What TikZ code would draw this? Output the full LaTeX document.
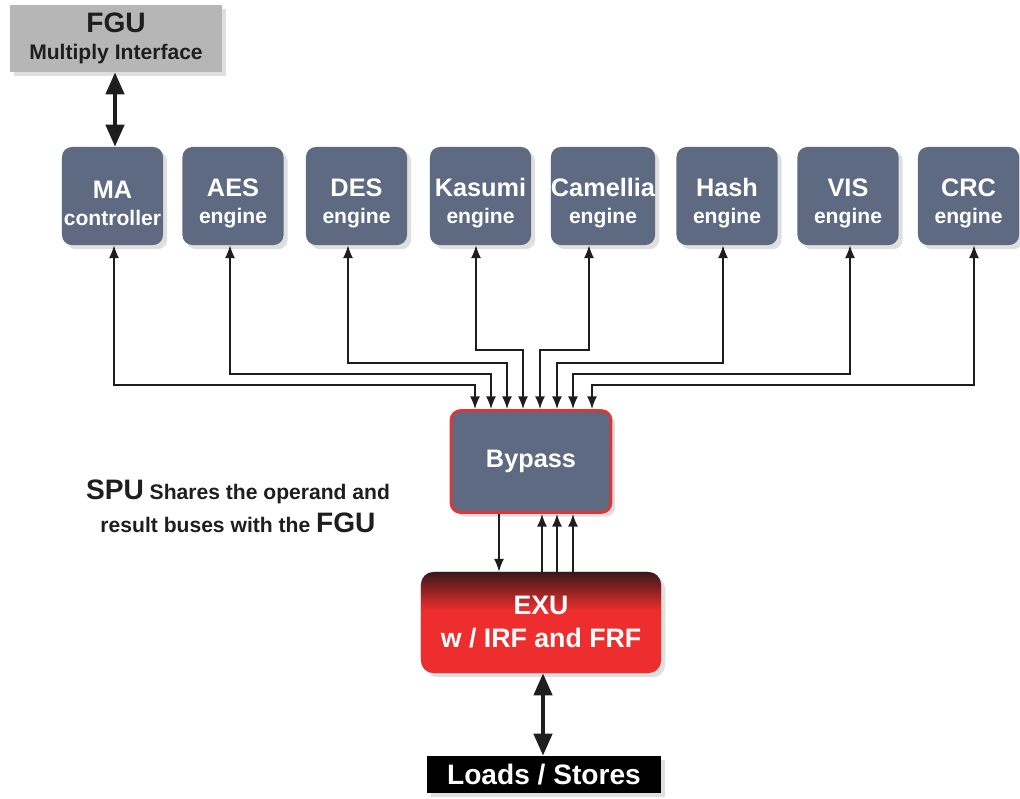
\documentclass[tikz,border=0pt]{standalone}
\usepackage{fontspec}
\setmainfont{Liberation Sans}
\usetikzlibrary{arrows.meta,shadows}

\definecolor{slate}{RGB}{94,106,130}
\definecolor{busred}{RGB}{226,52,52}
\definecolor{fgugray}{RGB}{182,182,182}
\definecolor{exudark}{RGB}{58,24,24}
\definecolor{exured}{RGB}{238,46,46}
\definecolor{ink}{RGB}{30,30,30}

% dark top edge fading into red
\pgfdeclareverticalshading{exushade}{100bp}{color(0bp)=(exured); color(56bp)=(exured);
  color(75bp)=(exudark); color(100bp)=(exudark)}

\tikzset{
  softshadow/.style={drop shadow={opacity=0.25, shadow xshift=3pt, shadow yshift=-3pt}},
  unit/.style={rounded corners=7pt, fill=slate, text=white, align=center, inner sep=0pt,
    font=\bfseries\fontsize{15}{19}\selectfont, softshadow},
  engine/.style={unit, minimum width=2.525cm, minimum height=2.45cm},
  bus/.style={ink, line width=1.1pt, >={Latex[length=3.2mm,width=2.5mm]}, <->},
  feed/.style={ink, line width=1.1pt, >={Latex[length=3.2mm,width=2.5mm]}, ->},
  fat/.style={ink, line width=3pt, >={Triangle[length=5.5mm,width=4.5mm]}, <->},
}

\begin{document}
\begin{tikzpicture}[x=0.025cm, y=-0.025cm]
  \useasboundingbox (0,0) rectangle (1020,798); % page frame

  % Interface to the FGU
  \node[fill=fgugray, text=ink, align=center, inner sep=0pt, minimum width=5.3cm, minimum height=1.675cm,
    font=\bfseries\fontsize{15}{19}\selectfont, softshadow] (fgu) at (116,38.5)
    {{\fontsize{20}{19}\selectfont FGU}\\Multiply Interface};

  % Row of engines
  \foreach \n/\cx/\hd/\tl in {ma/112.5/MA/controller, aes/233/AES/engine, des/356.5/DES/engine,
      kasumi/480.5/Kasumi/engine, camellia/603/Camellia/engine, hash/727/Hash/engine,
      vis/848/VIS/engine, crc/968.5/CRC/engine} {
    \node[engine] (\n) at (\cx,196) {\rule{0pt}{23pt}{\fontsize{18}{19}\selectfont \hd}\\\tl};
  }

  % Bypass and execution unit
  \node[unit, draw=busred, line width=2pt, minimum width=4cm, minimum height=2.55cm,
    font=\bfseries\fontsize{18}{22}\selectfont] (bypass) at (531,461.5) {Bypass};
  \node[unit, rounded corners=9pt, shading=exushade,
    minimum width=6cm, minimum height=2.525cm, font=\bfseries\fontsize{19}{23.5}\selectfont]
    (exu) at (541,622.5) {EXU\\w / IRF and FRF};
  \node[fill=black, text=white, inner sep=0pt, minimum width=5.85cm, minimum height=0.925cm,
    font=\bfseries\fontsize{20}{24}\selectfont, softshadow] (ls) at (544,774.5) {Loads / Stores};

  % Note on the shared buses
  \node[text=ink, align=center, font=\bfseries\fontsize{15}{23.5}\selectfont] (note) at (238,506)
    {{\fontsize{20}{23.5}\selectfont SPU} Shares the operand and\\result buses with the {\fontsize{20}{23.5}\selectfont FGU}};

  % Buses between the engines and the bypass
  \foreach \n/\xo/\xi/\lv in {ma/114/475/385, aes/230/491/374, des/348/507/363, kasumi/476/523/350,
      camellia/589/540/350, hash/723/557/363, vis/850/573/374, crc/974/592/385} {
    \draw[bus] (\n.south -| \xo,0) |- (\xi,\lv) -- (bypass.north -| \xi,0);
  }

  % Operand and result buses
  \draw[feed] (bypass.south -| 499,0) -- (exu.north -| 499,0); % operands down
  \foreach \x in {542,557,573} {
    \draw[feed] (exu.north -| \x,0) -- (bypass.south -| \x,0); % results up
  }

  % Wide two-way links
  \draw[fat] (fgu.south -| 115,0) -- (ma.north -| 115,0);
  \draw[fat] (exu.south -| 543,0) -- (ls.north -| 543,0);
\end{tikzpicture}
\end{document}
